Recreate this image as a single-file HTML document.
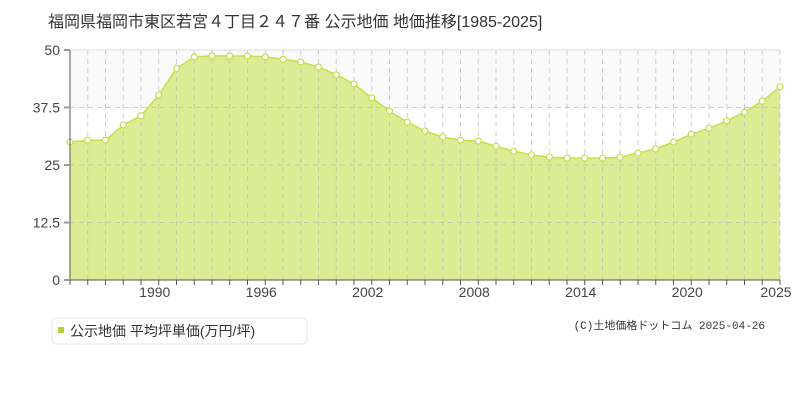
<!DOCTYPE html>
<html><head><meta charset="utf-8"><style>
body{margin:0;background:#fff;width:800px;height:400px;overflow:hidden;font-family:"Liberation Sans","Noto Sans CJK JP",sans-serif}
</style></head><body>
<svg id="s" width="800" height="400" xmlns="http://www.w3.org/2000/svg" font-family="Liberation Sans, Noto Sans CJK JP, sans-serif">
<text x="48" y="27" font-size="16" fill="#333">福岡県福岡市東区若宮４丁目２４７番 公示地価 地価推移[1985-2025]</text>
<rect x="70" y="50" width="710" height="57.5" fill="#fafafa"/>
<g id="g"></g>
<rect x="52" y="318" width="255" height="26" rx="4" fill="#fff" stroke="#e6e6e6"/>
<rect x="58" y="327" width="6" height="6" fill="#b5d334"/>
<text x="70" y="336" font-size="14" fill="#333">公示地価 平均坪単価(万円/坪)</text>
<text x="765" y="329" font-size="11" fill="#333" text-anchor="end" font-family="Liberation Mono, Noto Sans CJK JP, monospace">(C)土地価格ドットコム 2025-04-26</text>
</svg>
<script>
var v=[30,30.4,30.4,33.7,35.7,40.2,46,48.5,48.7,48.7,48.7,48.5,48,47.4,46.3,44.6,42.6,39.6,36.7,34.3,32.4,31.1,30.4,30.2,29.1,28,27.2,26.7,26.5,26.5,26.5,26.7,27.6,28.5,30,31.7,33,34.6,36.5,38.9,42];
var g=document.getElementById('g'),h='';
function X(i){return 70+i*17.75}function Y(d){return 280-d*4.6}
var pts=v.map(function(d,i){return X(i).toFixed(1)+','+Y(d).toFixed(1)}).join(' ');
h+='<polygon points="70,280 '+pts+' 780,280" fill="#dcec94"/>';
for(var i=1;i<=40;i++){h+='<line x1="'+X(i)+'" y1="50" x2="'+X(i)+'" y2="280" stroke="#bbb" stroke-opacity="0.7" stroke-dasharray="5,4"/>';}
[37.5,25,12.5].forEach(function(d){h+='<line x1="70" y1="'+Y(d)+'" x2="780" y2="'+Y(d)+'" stroke="#bbb" stroke-opacity="0.7" stroke-dasharray="5,4"/>';});
h+='<line x1="70" y1="50" x2="780" y2="50" stroke="#ddd"/>';
h+='<polyline points="'+pts+'" fill="none" stroke="#c4e04a" stroke-width="1.5"/>';
v.forEach(function(d,i){h+='<circle cx="'+X(i)+'" cy="'+Y(d)+'" r="3" fill="#fff" stroke="#c4e04a" stroke-width="1.2"/>';});
h+='<line x1="70" y1="50" x2="70" y2="280" stroke="#555"/><line x1="70" y1="280" x2="780" y2="280" stroke="#555"/>';
[[50,'50'],[37.5,'37.5'],[25,'25'],[12.5,'12.5'],[0,'0']].forEach(function(a){h+='<line x1="64" y1="'+Y(a[0])+'" x2="70" y2="'+Y(a[0])+'" stroke="#999" stroke-width="2"/><text x="60" y="'+(Y(a[0])+5)+'" font-size="14" fill="#444" text-anchor="end">'+a[1]+'</text>';});
for(var i=0;i<=40;i++){h+='<line x1="'+X(i)+'" y1="280" x2="'+X(i)+'" y2="285" stroke="#555"/>';}
[1990,1996,2002,2008,2014,2020,2025].forEach(function(y){var x=X(y-1985);h+='<text x="'+(x-4)+'" y="297" font-size="14" fill="#444" text-anchor="middle">'+y+'</text>';});
g.innerHTML=h;
</script>
</body></html>
